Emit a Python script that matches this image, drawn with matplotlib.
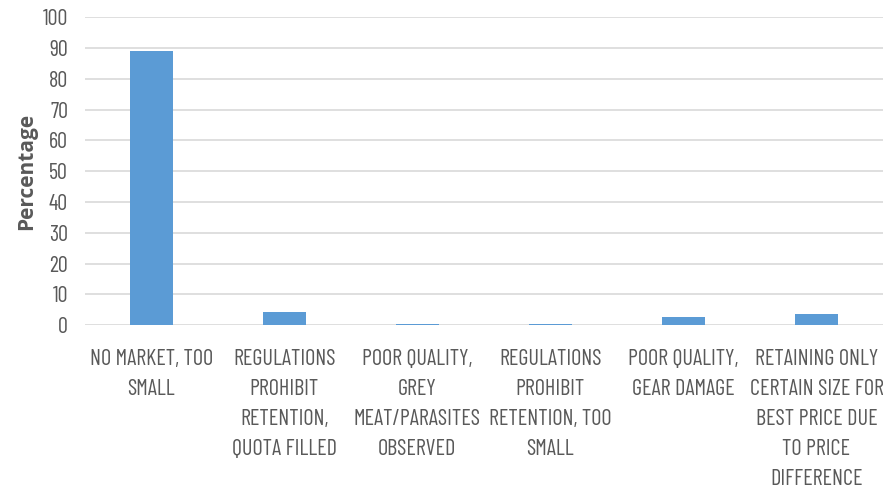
import matplotlib
matplotlib.use("Agg")
import matplotlib.pyplot as plt
import numpy as np

# === Data ===
categories = [
    "NO MARKET, TOO\nSMALL",
    "REGULATIONS\nPROHIBIT\nRETENTION,\nQUOTA FILLED",
    "POOR QUALITY,\nGREY\nMEAT/PARASITES\nOBSERVED",
    "REGULATIONS\nPROHIBIT\nRETENTION, TOO\nSMALL",
    "POOR QUALITY,\nGEAR DAMAGE",
    "RETAINING ONLY\nCERTAIN SIZE FOR\nBEST PRICE DUE\nTO PRICE\nDIFFERENCE",
]
values = [89.0, 4.3, 0.5, 0.5, 2.6, 3.5]
yticks = list(range(0, 101, 10))

# narrow font, like the squeezed Calibri Light in the original
plt.rcParams['font.family'] = ['Barlow Condensed', 'Roboto Condensed', 'DejaVu Sans']
TXT = "#595959"

fig = plt.figure(figsize=(8.83, 4.92), dpi=100)
ax = fig.add_axes([0.096, 0.339, 0.904, 0.626])

x = np.arange(len(categories))
ax.bar(x, values, width=0.32, color="#5B9BD5", zorder=3)

ax.set_xlim(-0.5, len(categories) - 0.5)
ax.set_ylim(0, 100)
ax.set_yticks(yticks)
ax.set_yticklabels([str(t) for t in yticks], fontsize=16, color=TXT)
ax.set_xticks(x)
ax.set_xticklabels(categories, fontsize=16, color=TXT, linespacing=1.56, va="top")
ax.tick_params(axis="both", length=0)
ax.tick_params(axis="x", pad=17)
ax.tick_params(axis="y", pad=12)

ax.grid(axis="y", color="#D9D9D9", linewidth=1.2, zorder=0)
for s in ["top", "right", "left", "bottom"]:
    ax.spines[s].set_visible(False)

ax.set_ylabel("Percentage", fontsize=15, color=TXT, fontweight="bold",
              family=["Open Sans", "DejaVu Sans"], labelpad=4)

fig.savefig("out.png", dpi=100)
